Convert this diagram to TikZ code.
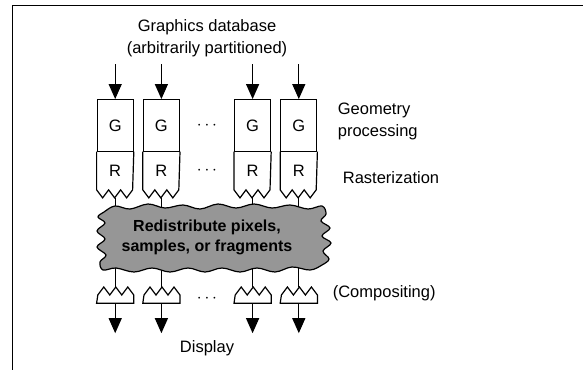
\documentclass[tikz,border=0pt]{standalone}
\usepackage{fontspec}
\setmainfont{Liberation Sans}
\usepackage{tikz}
\usetikzlibrary{arrows.meta}
\usetikzlibrary{matrix}
\usetikzlibrary{positioning}
\definecolor{cloudgray}{RGB}{150,150,150}
\newcommand{\rzig}[1]{\draw (#1.north west) -- (#1.south west) -- ++(6,8) -- ++(6,-8) -- ++(6,8) -- ++(6,-8) -- ++(6,8) -- ++(6,-8) -- (#1.north east);}
\newcommand{\czig}[1]{\draw (#1.south west) -- (#1.south east) -- (#1.north east) -- ++(-6,-8) -- ++(-6,8) -- ++(-6,-8) -- ++(-6,8) -- ++(-6,-8) -- ++(-6,8) -- cycle;}

\begin{document}
\begin{tikzpicture}[x=1pt,y=-1pt,line width=1.2pt,font=\fontsize{16.5}{22}\selectfont,
  arr/.style={-{Triangle[length=15pt,width=13pt]}}]
\useasboundingbox (0,0) rectangle (583,370);
\draw[line width=1.6pt] (583,5.5) -- (12.5,5.5) -- (12.5,370);
\matrix (m) [matrix of nodes,nodes in empty cells,row sep=0pt,column sep=9pt,
  nodes={anchor=center,minimum width=36pt,inner sep=0pt},
  row 1/.style={nodes={minimum height=52pt}},
  row 2/.style={nodes={minimum height=37pt}},
  row 3/.style={nodes={minimum height=7pt}}] at (207,201)
  {
    |[draw]| G & |[draw]| G & $\cdots$ & |[draw]| G & |[draw]| G \\
    R & R & $\cdots$ & R & R \\[106pt]
    & & $\cdots$ & & \\};
\rzig{m-2-1} \rzig{m-2-2} \rzig{m-2-4} \rzig{m-2-5}
\czig{m-3-1} \czig{m-3-2} \czig{m-3-4} \czig{m-3-5}
% pixels pass through the network
\draw ([yshift=-8pt]m-2-1.south) -- ([yshift=8pt]m-3-1.north);
\draw ([yshift=-8pt]m-2-2.south) -- ([yshift=8pt]m-3-2.north);
\draw ([yshift=-8pt]m-2-4.south) -- ([yshift=8pt]m-3-4.north);
\draw ([yshift=-8pt]m-2-5.south) -- ([yshift=8pt]m-3-5.north);
\draw[fill=cloudgray] plot[smooth cycle,tension=0.6] coordinates {
  (104,212) (115,206) (130,209) (148,204) (165,208) (183,205) (200,209) (218,204)
  (236,208) (254,204) (272,208) (290,205) (308,209) (322,206)
  (326,214) (321,221) (330,228) (322,236) (331,243) (323,251) (329,259) (322,265)
  (310,270) (292,267) (275,272) (257,268) (240,272) (222,268) (205,272) (188,268)
  (170,272) (152,268) (134,272) (116,268) (103,270)
  (100,262) (106,255) (97,247) (105,239) (97,231) (105,223) (98,217)};
\node (net) [align=center,font=\fontsize{16}{20}\selectfont\bfseries] at (207,237)
  {Redistribute pixels,\\samples, or fragments};
\node (gdb) [above=38pt of m-1-3,align=center] {Graphics database\\(arbitrarily partitioned)};
\node (geo) [right=16.5pt of m-1-5,yshift=4.5pt,align=left] {Geometry\\processing};
\node (rast) [right=21.5pt of m-2-5,yshift=-6.5pt] {Rasterization};
\node (comp) [right=11.5pt of m-3-5,yshift=5.5pt] {(Compositing)};
\node (disp) [below=33pt of m-3-3] {Display};
\path[arr]
  ([yshift=35pt]m-1-1.north) edge (m-1-1)
  ([yshift=35pt]m-1-2.north) edge (m-1-2)
  ([yshift=35pt]m-1-4.north) edge (m-1-4)
  ([yshift=35pt]m-1-5.north) edge (m-1-5)
  (m-3-1) edge ([yshift=-30pt]m-3-1.south)
  (m-3-2) edge ([yshift=-30pt]m-3-2.south)
  (m-3-4) edge ([yshift=-30pt]m-3-4.south)
  (m-3-5) edge ([yshift=-30pt]m-3-5.south);
\end{tikzpicture}
\end{document}
